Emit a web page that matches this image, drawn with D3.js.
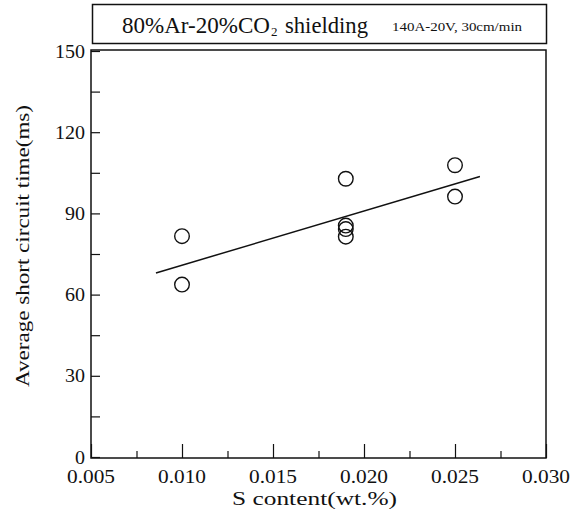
<!DOCTYPE html>
<html><head><meta charset="utf-8">
<script src="https://cdn.jsdelivr.net/npm/d3@7"></script>
<style>body{margin:0;background:#fff}svg{display:block}text{font-family:"Liberation Serif","Times New Roman",serif;fill:#111}</style>
</head><body>
<svg id="c" width="582" height="521"></svg>
<script>
// data
const sContent = [0.010, 0.010, 0.019, 0.019, 0.019, 0.019, 0.025, 0.025];
const shortTime = [81.6, 63.7, 102.8, 85.5, 84.2, 81.4, 107.8, 96.2];
const fitX = [0.00857, 0.02637];
const fitY = [68.0, 103.6];
const xTicks = [0.005, 0.010, 0.015, 0.020, 0.025, 0.030];
const xMinor = [0.0075, 0.0125, 0.0175, 0.0225, 0.0275];
const yTicks = [0, 30, 60, 90, 120, 150];
const yMinor = [15, 45, 75, 105, 135];

const svg = d3.select("#c");
const L = 91, R = 546, T = 51, B = 457;
const x = d3.scaleLinear().domain([0.005, 0.030]).range([L, R]);
const y = d3.scaleLinear().domain([0, 150]).range([B, T]);
const SG = "spacingAndGlyphs";

// title box
svg.append("rect").attr("x", 92.5).attr("y", 4.5).attr("width", 454).attr("height", 39)
  .attr("fill", "none").attr("stroke", "#111").attr("stroke-width", 1.5);
svg.append("text").attr("x", 122).attr("y", 32.5).attr("font-size", 23)
  .attr("textLength", 148).attr("lengthAdjust", SG).text("80%Ar-20%CO");
svg.append("text").attr("x", 271).attr("y", 35.5).attr("font-size", 13).text("2");
svg.append("text").attr("x", 285).attr("y", 32.5).attr("font-size", 23)
  .attr("textLength", 83).attr("lengthAdjust", SG).text("shielding");
svg.append("text").attr("x", 392).attr("y", 31).attr("font-size", 12.5)
  .attr("textLength", 130).attr("lengthAdjust", SG).text("140A-20V, 30cm/min");

// frame
svg.append("rect").attr("x", L).attr("y", T - 1).attr("width", R - L).attr("height", B - T + 2)
  .attr("fill", "none").attr("stroke", "#111").attr("stroke-width", 1.5);

// x ticks (inward)
svg.append("g").attr("transform", `translate(0,${B + 1})`)
  .call(d3.axisTop(x).tickValues(xTicks).tickSize(14).tickFormat(""))
  .call(g => g.select(".domain").remove())
  .selectAll("line").attr("stroke", "#111").attr("stroke-width", 1.2);
svg.append("g").attr("transform", `translate(0,${B + 1})`)
  .call(d3.axisTop(x).tickValues(xMinor).tickSize(7).tickFormat(""))
  .call(g => g.select(".domain").remove())
  .selectAll("line").attr("stroke", "#111").attr("stroke-width", 1.2);
svg.append("g").selectAll("text").data(xTicks).join("text")
  .attr("x", d => x(d) - 24).attr("y", 483).attr("font-size", 18)
  .attr("textLength", 48).attr("lengthAdjust", SG).text(d => d3.format(".3f")(d));

// y ticks (inward)
svg.append("g").attr("transform", `translate(${L},0)`)
  .call(d3.axisRight(y).tickValues(yTicks.concat(yMinor)).tickSize(9).tickFormat(""))
  .call(g => g.select(".domain").remove())
  .selectAll("line").attr("stroke", "#111").attr("stroke-width", 1.2);
svg.append("g").selectAll("text").data(yTicks).join("text")
  .attr("x", d => 85 - String(d).length * 10).attr("y", d => y(d) + 6.5).attr("font-size", 18)
  .attr("textLength", d => String(d).length * 10).attr("lengthAdjust", SG)
  .text(d => d);

// axis titles
svg.append("text").attr("x", 232).attr("y", 505).attr("font-size", 18)
  .attr("textLength", 165).attr("lengthAdjust", SG).text("S content(wt.%)");
svg.append("text").attr("transform", "translate(29,387) rotate(-90)")
  .attr("font-size", 18).attr("textLength", 282).attr("lengthAdjust", SG).text("Average short circuit time(ms)");

// fit line
svg.append("line").attr("x1", x(fitX[0])).attr("y1", y(fitY[0])).attr("x2", x(fitX[1])).attr("y2", y(fitY[1]))
  .attr("stroke", "#111").attr("stroke-width", 1.5);

// points
svg.append("g").selectAll("circle").data(sContent.map((d, i) => [d, shortTime[i]])).join("circle")
  .attr("cx", d => x(d[0])).attr("cy", d => y(d[1])).attr("r", 7.3)
  .attr("fill", "none").attr("stroke", "#111").attr("stroke-width", 1.4);
</script>
</body></html>
